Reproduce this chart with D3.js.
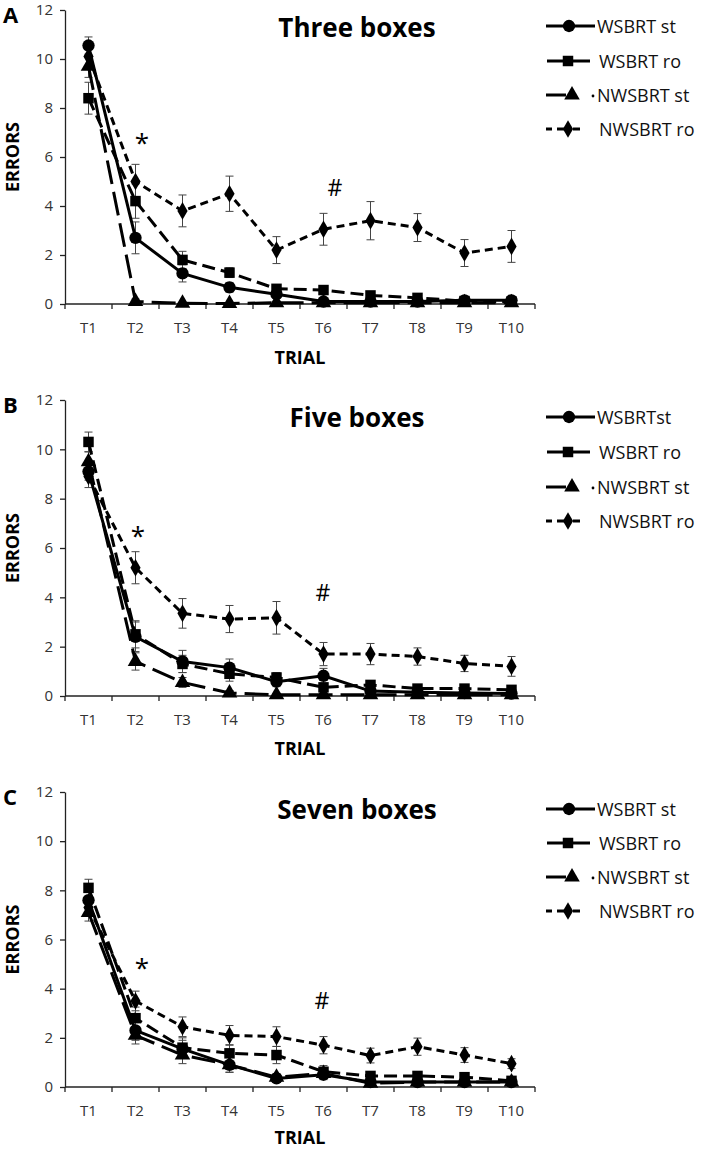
<!DOCTYPE html>
<html><head><meta charset="utf-8">
<script src="https://cdn.jsdelivr.net/npm/d3@7"></script>
<style>
html,body{margin:0;padding:0;background:#fff;}
svg{display:block;}
</style></head>
<body>
<svg id="chart" width="702" height="1149"></svg>
<script>
// ---------- data ----------
const trials = ["T1","T2","T3","T4","T5","T6","T7","T8","T9","T10"];
const seriesNames = ["WSBRT st","WSBRT ro","NWSBRT st","NWSBRT ro"];
const legendNamesB = ["WSBRTst","WSBRT ro","NWSBRT st","NWSBRT ro"];
const yTicks = [0,2,4,6,8,10,12];
const panelTitles = ["Three boxes","Five boxes","Seven boxes"];
const panelLetters = ["A","B","C"];

// Panel A (three boxes)
const aWst    = [10.55,2.7,1.25,0.68,0.4,0.1,0.1,0.1,0.15,0.15];
const aWstErr = [0.35,0.65,0.35,0.2,0.1,0.05,0.05,0.05,0.05,0.05];
const aWro    = [8.4,4.2,1.8,1.28,0.62,0.57,0.35,0.25,0.12,0.1];
const aWroErr = [0.65,0.7,0.35,0.2,0.15,0.1,0.1,0.1,0.05,0.05];
const aNst    = [9.7,0.1,0.03,0.02,0.05,0.05,0.05,0.05,0.05,0.05];
const aNstErr = [0.45,0.1,0.03,0.02,0.05,0.05,0.05,0.05,0.05,0.05];
const aNro    = [10.1,5.0,3.8,4.5,2.2,3.05,3.4,3.12,2.08,2.35];
const aNroErr = [0.45,0.7,0.65,0.72,0.55,0.65,0.78,0.57,0.55,0.65];

// Panel B (five boxes)
const bWst    = [9.1,2.4,1.4,1.15,0.58,0.82,0.2,0.15,0.12,0.1];
const bWstErr = [0.35,0.6,0.45,0.35,0.2,0.3,0.1,0.1,0.05,0.05];
const bWro    = [10.3,2.5,1.3,0.9,0.75,0.35,0.45,0.3,0.3,0.25];
const bWroErr = [0.4,0.55,0.35,0.3,0.2,0.15,0.15,0.1,0.1,0.1];
const bNst    = [9.5,1.4,0.55,0.12,0.05,0.05,0.05,0.05,0.05,0.05];
const bNstErr = [0.4,0.35,0.2,0.1,0.05,0.05,0.05,0.05,0.05,0.05];
const bNro    = [8.9,5.2,3.35,3.12,3.17,1.7,1.7,1.6,1.32,1.2];
const bNroErr = [0.45,0.65,0.6,0.55,0.66,0.47,0.43,0.35,0.33,0.4];

// Panel C (seven boxes)
const cWst    = [7.6,2.3,1.55,0.9,0.35,0.5,0.2,0.2,0.2,0.2];
const cWstErr = [0.35,0.4,0.35,0.3,0.15,0.2,0.1,0.1,0.1,0.1];
const cWro    = [8.1,2.8,1.6,1.37,1.3,0.62,0.45,0.45,0.4,0.25];
const cWroErr = [0.35,0.45,0.4,0.35,0.35,0.25,0.15,0.15,0.15,0.1];
const cNst    = [7.1,2.1,1.3,0.9,0.4,0.55,0.15,0.2,0.2,0.2];
const cNstErr = [0.35,0.35,0.35,0.3,0.15,0.2,0.1,0.1,0.1,0.1];
const cNro    = [7.3,3.5,2.45,2.1,2.05,1.7,1.28,1.64,1.3,0.95];
const cNroErr = [0.35,0.4,0.4,0.4,0.4,0.35,0.3,0.35,0.3,0.2];

// ---------- styles ----------
const styles = [
  {dash:null,    symbol:d3.symbolCircle,   size:120},
  {dash:"13,6",  symbol:d3.symbolSquare,   size:110},
  {dash:"24,8",  symbol:d3.symbolTriangle, size:105},
  {dash:"8,5",   symbol:d3.symbolDiamond,  size:90}
];

const panels = [
  {top:10,  bottom:304, trialDy:60, series:[[aWst,aWstErr],[aWro,aWroErr],[aNst,aNstErr],[aNro,aNroErr]],
   legendY:[26,61,95,129], names:seriesNames, star:[142,152], hash:[335,196]},
  {top:400, bottom:696, trialDy:59, series:[[bWst,bWstErr],[bWro,bWroErr],[bNst,bNstErr],[bNro,bNroErr]],
   legendY:[417,452,487,521], names:legendNamesB, star:[138,545], hash:[323,601]},
  {top:792, bottom:1087, trialDy:57, series:[[cWst,cWstErr],[cWro,cWroErr],[cNst,cNstErr],[cNro,cNroErr]],
   legendY:[809,843,877,911], names:seriesNames, star:[142,977], hash:[322,1009]}
];

const svg = d3.select("#chart");
const left = 65, right = 535;
const font = "'Open Sans', 'DejaVu Sans', sans-serif";

panels.forEach((p, pi) => {
  const g = svg.append("g");
  const x = d3.scaleBand().domain(trials).range([left, right]);
  const y = d3.scaleLinear().domain([0,12]).range([p.bottom, p.top]);
  const cx = t => x(t) + x.bandwidth()/2;

  // y axis
  const ya = g.append("g").attr("transform", `translate(${left},0)`)
    .call(d3.axisLeft(y).tickValues(yTicks).tickSize(5).tickSizeOuter(0).tickPadding(7));
  ya.select(".domain").attr("stroke","#222").attr("stroke-width",1.3);
  ya.selectAll(".tick line").attr("stroke","#222").attr("stroke-width",1.3);
  ya.selectAll("text").attr("font-family",font).attr("font-size",15).attr("fill","#333");

  // x axis: ticks at band boundaries
  const xa = g.append("g").attr("transform", `translate(0,${p.bottom})`);
  xa.append("line").attr("x1",left).attr("x2",right).attr("stroke","#222").attr("stroke-width",1.3);
  const bounds = trials.map(t => x(t)).concat([right]);
  xa.selectAll(".xt").data(bounds).enter().append("line")
    .attr("x1",d=>d).attr("x2",d=>d).attr("y1",0).attr("y2",5)
    .attr("stroke","#222").attr("stroke-width",1.3);
  xa.selectAll(".xl").data(trials).enter().append("text")
    .attr("x",d=>cx(d)).attr("y",29).attr("text-anchor","middle")
    .attr("font-family",font).attr("font-size",15).attr("fill","#333").text(d=>d);

  // axis titles
  g.append("text").attr("x",(cx("T5")+cx("T6"))/2)
    .attr("y",p.bottom+p.trialDy).attr("text-anchor","middle")
    .attr("font-family",font).attr("font-weight","bold").attr("font-size",18).text("TRIAL");
  g.append("text").attr("transform",`translate(19,${(p.top+p.bottom)/2}) rotate(-90)`)
    .attr("text-anchor","middle").attr("font-family",font).attr("font-weight","bold")
    .attr("font-size",18).text("ERRORS");

  // panel letter
  g.append("text").attr("x",3).attr("y",p.top+13).attr("font-family",font)
    .attr("font-weight","bold").attr("font-size",22).text(panelLetters[pi]);
  // title
  g.append("text").attr("x",357).attr("y",p.top+27).attr("text-anchor","middle")
    .attr("font-family",font).attr("font-weight","bold").attr("font-size",26).text(panelTitles[pi]);

  // error bars
  p.series.forEach(([vals, errs]) => {
    vals.forEach((v,i) => {
      const xx = cx(trials[i]);
      const y1 = y(v+errs[i]), y2 = y(Math.max(0,v-errs[i]));
      g.append("line").attr("x1",xx).attr("x2",xx).attr("y1",y1).attr("y2",y2)
        .attr("stroke","#444").attr("stroke-width",1);
      [y1,y2].forEach(yy => g.append("line").attr("x1",xx-4).attr("x2",xx+4)
        .attr("y1",yy).attr("y2",yy).attr("stroke","#444").attr("stroke-width",1));
    });
  });

  // lines
  const line = d3.line().x((d,i)=>cx(trials[i])).y(d=>y(d));
  p.series.forEach(([vals], si) => {
    g.append("path").datum(vals).attr("d",line).attr("fill","none")
      .attr("stroke","#000").attr("stroke-width",3)
      .attr("stroke-dasharray",styles[si].dash);
  });
  // markers
  p.series.forEach(([vals], si) => {
    const sym = d3.symbol().type(styles[si].symbol).size(styles[si].size);
    vals.forEach((v,i) => {
      g.append("path").attr("d",sym())
        .attr("transform",`translate(${cx(trials[i])},${y(v)})`).attr("fill","#000");
    });
  });

  // annotations
  g.append("text").attr("x",p.star[0]).attr("y",p.star[1]).attr("text-anchor","middle")
    .attr("font-family",font).attr("font-size",26).text("*");
  g.append("text").attr("x",p.hash[0]).attr("y",p.hash[1]).attr("text-anchor","middle")
    .attr("font-family",font).attr("font-size",23).text("#");

  // legend
  const seg = (x1,x2,yy) => g.append("line").attr("x1",x1).attr("x2",x2).attr("y1",yy).attr("y2",yy)
    .attr("stroke","#000").attr("stroke-width",3);
  const mark = (si,xx,yy) => g.append("path")
    .attr("d",d3.symbol().type(styles[si].symbol).size(styles[si].size)())
    .attr("transform",`translate(${xx},${yy})`);
  p.names.forEach((name, si) => {
    const ly = p.legendY[si];
    let tx = 599;
    if (si===0) { seg(546,595,ly); mark(0,569,ly); tx = 597; }
    else if (si===1) { seg(547,590,ly); mark(1,568,ly); }
    else if (si===2) { seg(546,566,ly); mark(2,572,ly); g.append("circle").attr("cx",593).attr("cy",ly+1).attr("r",1.4); tx = 597; }
    else { seg(546,552,ly); seg(557,564,ly); mark(3,568,ly); seg(573,580,ly); }
    g.append("text").attr("x",tx).attr("y",ly+6.5)
      .attr("font-family",font).attr("font-size",18).attr("fill","#111").text(name);
  });
});
</script>
</body></html>
